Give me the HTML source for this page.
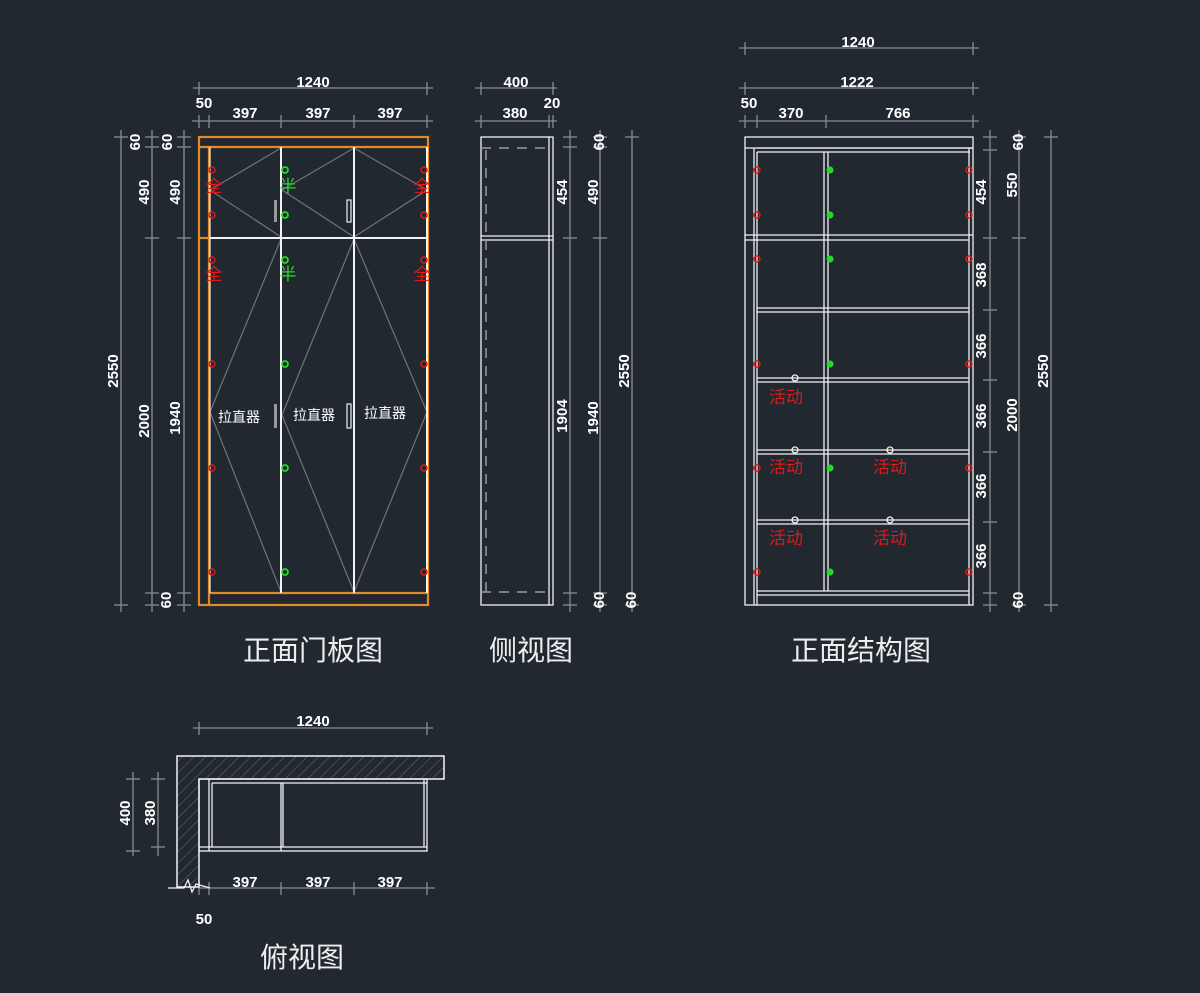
<!DOCTYPE html>
<html><head><meta charset="utf-8"><style>
html,body{margin:0;padding:0;background:#212830;}
svg{display:block}
text{font-family:"Liberation Sans","Noto Sans CJK SC",sans-serif;fill:#fff;}
.d{font-size:15px;font-weight:bold;text-anchor:middle;}
.t{font-family:"Noto Sans CJK SC","WenQuanYi Zen Hei",sans-serif;font-size:28px;fill:#eee;text-anchor:middle;}
.g{stroke:#8a8d92;stroke-width:1.3;fill:none}
.w{stroke:#f2f2f2;stroke-width:2;fill:none}
.w1{stroke:#f2f2f2;stroke-width:1.3;fill:none}
.o{stroke:#e08a2a;stroke-width:2.2;fill:none}
.dg{stroke:#70737a;stroke-width:1.2;fill:none}
.r{stroke:#e01818;stroke-width:1.5;fill:none}
.gr{stroke:#22dd22;stroke-width:1.8;fill:none}
.red{fill:#e01818;font-family:"Noto Sans CJK SC",sans-serif;font-size:17px;text-anchor:middle}
</style></head><body>
<svg width="1200" height="993" viewBox="0 0 1200 993" xmlns="http://www.w3.org/2000/svg">
<defs>
<pattern id="h" width="8" height="8" patternUnits="userSpaceOnUse" patternTransform="rotate(45)">
<line x1="0" y1="0" x2="0" y2="8" stroke="#6a6d72" stroke-width="1"/>
</pattern>
</defs>

<!-- ===== FRONT DOOR VIEW ===== -->
<!-- top dims -->
<g class="g">
<line x1="193" y1="88" x2="433" y2="88"/>
<line x1="199" y1="82" x2="199" y2="95"/><line x1="427" y1="82" x2="427" y2="95"/>
<line x1="192" y1="121" x2="433" y2="121"/>
<line x1="199" y1="115" x2="199" y2="128"/><line x1="209" y1="115" x2="209" y2="128"/>
<line x1="281" y1="115" x2="281" y2="128"/><line x1="354" y1="115" x2="354" y2="128"/><line x1="427" y1="115" x2="427" y2="128"/>
<!-- left vertical dims -->
<line x1="121" y1="130" x2="121" y2="612"/>
<line x1="114" y1="137" x2="128" y2="137"/><line x1="114" y1="605" x2="128" y2="605"/>
<line x1="152" y1="130" x2="152" y2="612"/>
<line x1="145" y1="137" x2="159" y2="137"/><line x1="145" y1="147" x2="159" y2="147"/><line x1="145" y1="238" x2="159" y2="238"/><line x1="145" y1="593" x2="159" y2="593"/><line x1="145" y1="605" x2="159" y2="605"/>
<line x1="184" y1="130" x2="184" y2="612"/>
<line x1="177" y1="137" x2="191" y2="137"/><line x1="177" y1="147" x2="191" y2="147"/><line x1="177" y1="238" x2="191" y2="238"/><line x1="177" y1="593" x2="191" y2="593"/><line x1="177" y1="605" x2="191" y2="605"/>
</g>
<text class="d" x="313" y="87">1240</text>
<text class="d" x="204" y="108">50</text>
<text class="d" x="245" y="118">397</text>
<text class="d" x="318" y="118">397</text>
<text class="d" x="390" y="118">397</text>
<text class="d" transform="translate(140,142) rotate(-90)">60</text>
<text class="d" transform="translate(172,142) rotate(-90)">60</text>
<text class="d" transform="translate(149,192) rotate(-90)">490</text>
<text class="d" transform="translate(180,192) rotate(-90)">490</text>
<text class="d" transform="translate(118,371) rotate(-90)">2550</text>
<text class="d" transform="translate(149,421) rotate(-90)">2000</text>
<text class="d" transform="translate(180,418) rotate(-90)">1940</text>
<text class="d" transform="translate(171,600) rotate(-90)">60</text>

<!-- orange frame -->
<rect class="o" x="199" y="137" width="229" height="468"/>
<line class="o" x1="199" y1="147" x2="428" y2="147"/>
<line class="o" x1="209" y1="147" x2="209" y2="605"/>
<line class="o" x1="209" y1="593" x2="428" y2="593"/>
<line class="o" x1="199" y1="238" x2="209" y2="238"/>
<!-- door diagonals -->
<g class="dg">
<polyline points="281,148 210,190 281,237"/>
<polyline points="354,148 282,190 354,237"/>
<polyline points="354,148 427,190 354,237"/>
<polyline points="281,239 210,412 281,592"/>
<polyline points="354,239 282,415 354,592"/>
<polyline points="354,239 427,412 354,592"/>
</g>
<!-- door white lines -->
<g class="w">
<line x1="210" y1="238" x2="428" y2="238"/>
<line x1="281" y1="147" x2="281" y2="593"/>
<line x1="354" y1="147" x2="354" y2="593"/>
<line x1="427" y1="147" x2="427" y2="593"/>
<line x1="210" y1="147" x2="210" y2="593" stroke-width="1.2"/>
</g>
<!-- handles -->
<rect x="274" y="200" width="3" height="22" fill="#999"/>
<rect x="347" y="200" width="4" height="22" fill="none" stroke="#eee" stroke-width="1.2"/>
<rect x="274" y="404" width="3" height="24" fill="#999"/>
<rect x="347" y="404" width="4" height="24" fill="none" stroke="#eee" stroke-width="1.2"/>
<!-- hinges -->
<g class="r">
<circle cx="212" cy="170" r="3"/><circle cx="212" cy="215" r="3"/><circle cx="212" cy="260" r="3"/><circle cx="212" cy="364" r="3"/><circle cx="212" cy="468" r="3"/><circle cx="212" cy="572" r="3"/>
<circle cx="424" cy="170" r="3"/><circle cx="424" cy="215" r="3"/><circle cx="424" cy="260" r="3"/><circle cx="424" cy="364" r="3"/><circle cx="424" cy="468" r="3"/><circle cx="424" cy="572" r="3"/>
</g>
<g class="gr">
<circle cx="285" cy="170" r="3"/><circle cx="285" cy="215" r="3"/><circle cx="285" cy="260" r="3"/><circle cx="285" cy="364" r="3"/><circle cx="285" cy="468" r="3"/><circle cx="285" cy="572" r="3"/>
</g>
<text class="red" x="214" y="192" font-size="14">全</text>
<text class="red" x="422" y="192" font-size="14">全</text>
<text class="red" x="214" y="280" font-size="14">全</text>
<text class="red" x="422" y="280" font-size="14">全</text>
<text class="red" x="288" y="192" font-size="14" style="fill:#22dd22">半</text>
<text class="red" x="288" y="280" font-size="14" style="fill:#22dd22">半</text>
<text x="239" y="422" style="font-family:'Noto Sans CJK SC',sans-serif;font-size:14px;text-anchor:middle">拉直器</text>
<text x="314" y="420" style="font-family:'Noto Sans CJK SC',sans-serif;font-size:14px;text-anchor:middle">拉直器</text>
<text x="385" y="418" style="font-family:'Noto Sans CJK SC',sans-serif;font-size:14px;text-anchor:middle">拉直器</text>
<text class="t" x="313" y="660">正面门板图</text>

<!-- ===== SIDE VIEW ===== -->
<g class="g">
<line x1="475" y1="88" x2="557" y2="88"/>
<line x1="481" y1="82" x2="481" y2="95"/><line x1="553" y1="82" x2="553" y2="95"/>
<line x1="475" y1="121" x2="557" y2="121"/>
<line x1="481" y1="115" x2="481" y2="128"/><line x1="549" y1="115" x2="549" y2="128"/><line x1="553" y1="115" x2="553" y2="128"/>
<line x1="570" y1="130" x2="570" y2="612"/>
<line x1="563" y1="137" x2="577" y2="137"/><line x1="563" y1="147" x2="577" y2="147"/><line x1="563" y1="238" x2="577" y2="238"/><line x1="563" y1="593" x2="577" y2="593"/><line x1="563" y1="605" x2="577" y2="605"/>
<line x1="600" y1="130" x2="600" y2="612"/>
<line x1="593" y1="137" x2="607" y2="137"/><line x1="593" y1="147" x2="607" y2="147"/><line x1="593" y1="238" x2="607" y2="238"/><line x1="593" y1="593" x2="607" y2="593"/><line x1="593" y1="605" x2="607" y2="605"/>
<line x1="632" y1="130" x2="632" y2="612"/>
<line x1="625" y1="137" x2="639" y2="137"/><line x1="625" y1="605" x2="639" y2="605"/>
</g>
<text class="d" x="516" y="87">400</text>
<text class="d" x="552" y="108">20</text>
<text class="d" x="515" y="118">380</text>
<rect class="w1" x="481" y="137" width="72" height="468"/>
<line class="w1" x1="549" y1="137" x2="549" y2="605"/>
<line class="w1" x1="481" y1="236" x2="553" y2="236"/>
<line class="w1" x1="481" y1="240" x2="553" y2="240"/>
<g stroke="#9a9a9a" stroke-width="1.5" stroke-dasharray="10,8" fill="none">
<line x1="486" y1="150" x2="486" y2="594"/>
<line x1="481" y1="148" x2="553" y2="148"/>
<line x1="481" y1="592" x2="553" y2="592"/>
</g>
<text class="d" transform="translate(567,192) rotate(-90)">454</text>
<text class="d" transform="translate(567,416) rotate(-90)">1904</text>
<text class="d" transform="translate(598,192) rotate(-90)">490</text>
<text class="d" transform="translate(598,418) rotate(-90)">1940</text>
<text class="d" transform="translate(604,142) rotate(-90)">60</text>
<text class="d" transform="translate(604,600) rotate(-90)">60</text>
<text class="d" transform="translate(629,371) rotate(-90)">2550</text>
<text class="d" transform="translate(636,600) rotate(-90)">60</text>
<text class="t" x="531" y="660">侧视图</text>

<!-- ===== STRUCTURE VIEW ===== -->
<g class="g">
<line x1="739" y1="48" x2="979" y2="48"/>
<line x1="745" y1="42" x2="745" y2="55"/><line x1="973" y1="42" x2="973" y2="55"/>
<line x1="739" y1="88" x2="979" y2="88"/>
<line x1="745" y1="82" x2="745" y2="95"/><line x1="973" y1="82" x2="973" y2="95"/>
<line x1="739" y1="121" x2="979" y2="121"/>
<line x1="745" y1="115" x2="745" y2="128"/><line x1="757" y1="115" x2="757" y2="128"/><line x1="826" y1="115" x2="826" y2="128"/><line x1="973" y1="115" x2="973" y2="128"/>
<line x1="990" y1="130" x2="990" y2="612"/>
<line x1="983" y1="137" x2="997" y2="137"/><line x1="983" y1="150" x2="997" y2="150"/><line x1="983" y1="238" x2="997" y2="238"/><line x1="983" y1="310" x2="997" y2="310"/><line x1="983" y1="380" x2="997" y2="380"/><line x1="983" y1="452" x2="997" y2="452"/><line x1="983" y1="522" x2="997" y2="522"/><line x1="983" y1="593" x2="997" y2="593"/><line x1="983" y1="605" x2="997" y2="605"/>
<line x1="1019" y1="130" x2="1019" y2="612"/>
<line x1="1012" y1="137" x2="1026" y2="137"/><line x1="1012" y1="238" x2="1026" y2="238"/><line x1="1012" y1="605" x2="1026" y2="605"/>
<line x1="1051" y1="130" x2="1051" y2="612"/>
<line x1="1044" y1="137" x2="1058" y2="137"/><line x1="1044" y1="605" x2="1058" y2="605"/>
</g>
<text class="d" x="858" y="47">1240</text>
<text class="d" x="857" y="87">1222</text>
<text class="d" x="749" y="108">50</text>
<text class="d" x="791" y="118">370</text>
<text class="d" x="898" y="118">766</text>
<g class="w1">
<rect x="745" y="137" width="228" height="468"/>
<line x1="745" y1="148" x2="973" y2="148"/>
<line x1="757" y1="148" x2="973" y2="148"/>
<line x1="757" y1="152" x2="970" y2="152"/>
<line x1="754" y1="148" x2="754" y2="605"/>
<line x1="757" y1="152" x2="757" y2="605"/>
<line x1="969" y1="148" x2="969" y2="605"/>
<line x1="745" y1="235" x2="973" y2="235"/><line x1="745" y1="240" x2="969" y2="240"/>
<line x1="757" y1="308" x2="969" y2="308"/><line x1="757" y1="312" x2="969" y2="312"/>
<line x1="757" y1="378" x2="969" y2="378"/><line x1="757" y1="382" x2="969" y2="382"/>
<line x1="757" y1="450" x2="969" y2="450"/><line x1="757" y1="454" x2="969" y2="454"/>
<line x1="757" y1="520" x2="969" y2="520"/><line x1="757" y1="524" x2="969" y2="524"/>
<line x1="757" y1="591" x2="969" y2="591"/><line x1="757" y1="595" x2="969" y2="595"/>
<line x1="824" y1="152" x2="824" y2="591"/><line x1="828" y1="152" x2="828" y2="591"/>
<circle cx="795" cy="378" r="3"/><circle cx="795" cy="450" r="3"/><circle cx="890" cy="450" r="3"/><circle cx="795" cy="520" r="3"/><circle cx="890" cy="520" r="3"/>
</g>
<g class="r">
<circle cx="757" cy="170" r="3"/><circle cx="757" cy="215" r="3"/><circle cx="757" cy="259" r="3"/><circle cx="757" cy="364" r="3"/><circle cx="757" cy="468" r="3"/><circle cx="757" cy="572" r="3"/>
<circle cx="969" cy="170" r="3"/><circle cx="969" cy="215" r="3"/><circle cx="969" cy="259" r="3"/><circle cx="969" cy="364" r="3"/><circle cx="969" cy="468" r="3"/><circle cx="969" cy="572" r="3"/>
</g>
<g fill="#22dd22">
<circle cx="830" cy="170" r="3.5"/><circle cx="830" cy="215" r="3.5"/><circle cx="830" cy="259" r="3.5"/><circle cx="830" cy="364" r="3.5"/><circle cx="830" cy="468" r="3.5"/><circle cx="830" cy="572" r="3.5"/>
</g>
<text class="red" x="786" y="403">活动</text>
<text class="red" x="786" y="473">活动</text>
<text class="red" x="890" y="473">活动</text>
<text class="red" x="786" y="544">活动</text>
<text class="red" x="890" y="544">活动</text>
<text class="d" transform="translate(986,192) rotate(-90)">454</text>
<text class="d" transform="translate(986,275) rotate(-90)">368</text>
<text class="d" transform="translate(986,346) rotate(-90)">366</text>
<text class="d" transform="translate(986,416) rotate(-90)">366</text>
<text class="d" transform="translate(986,486) rotate(-90)">366</text>
<text class="d" transform="translate(986,556) rotate(-90)">366</text>
<text class="d" transform="translate(1023,142) rotate(-90)">60</text>
<text class="d" transform="translate(1017,185) rotate(-90)">550</text>
<text class="d" transform="translate(1017,415) rotate(-90)">2000</text>
<text class="d" transform="translate(1023,600) rotate(-90)">60</text>
<text class="d" transform="translate(1048,371) rotate(-90)">2550</text>
<text class="t" x="861" y="660">正面结构图</text>

<!-- ===== TOP VIEW ===== -->
<g class="g">
<line x1="193" y1="728" x2="433" y2="728"/>
<line x1="199" y1="722" x2="199" y2="735"/><line x1="427" y1="722" x2="427" y2="735"/>
<line x1="198" y1="888" x2="435" y2="888"/>
<line x1="199" y1="882" x2="199" y2="895"/><line x1="209" y1="882" x2="209" y2="895"/><line x1="281" y1="882" x2="281" y2="895"/><line x1="354" y1="882" x2="354" y2="895"/><line x1="427" y1="882" x2="427" y2="895"/>
<line x1="133" y1="772" x2="133" y2="856"/>
<line x1="126" y1="779" x2="140" y2="779"/><line x1="126" y1="851" x2="140" y2="851"/>
<line x1="158" y1="772" x2="158" y2="856"/>
<line x1="151" y1="779" x2="165" y2="779"/><line x1="151" y1="847" x2="165" y2="847"/>
</g>
<text class="d" x="313" y="726">1240</text>
<text class="d" transform="translate(130,813) rotate(-90)">400</text>
<text class="d" transform="translate(155,813) rotate(-90)">380</text>
<text class="d" x="245" y="887">397</text>
<text class="d" x="318" y="887">397</text>
<text class="d" x="390" y="887">397</text>
<text class="d" x="204" y="924">50</text>
<path d="M177,756 L444,756 L444,779 L199,779 L199,887 L177,887 Z" fill="url(#h)" stroke="#f2f2f2" stroke-width="1.5"/>
<polyline points="168,888 184,888 188,880 192,892 196,884 210,888" fill="none" stroke="#f2f2f2" stroke-width="1.3"/>
<g class="w1">
<rect x="199" y="779" width="228" height="72"/>
<line x1="209" y1="779" x2="209" y2="851"/>
<line x1="212" y1="783" x2="212" y2="847"/>
<line x1="212" y1="783" x2="427" y2="783"/>
<line x1="199" y1="847" x2="427" y2="847"/>
<line x1="424" y1="779" x2="424" y2="847"/>
<line x1="281" y1="783" x2="281" y2="851"/>
<line x1="283" y1="783" x2="283" y2="847"/>
</g>
<text class="t" x="302" y="967">俯视图</text>
</svg>
</body></html>
